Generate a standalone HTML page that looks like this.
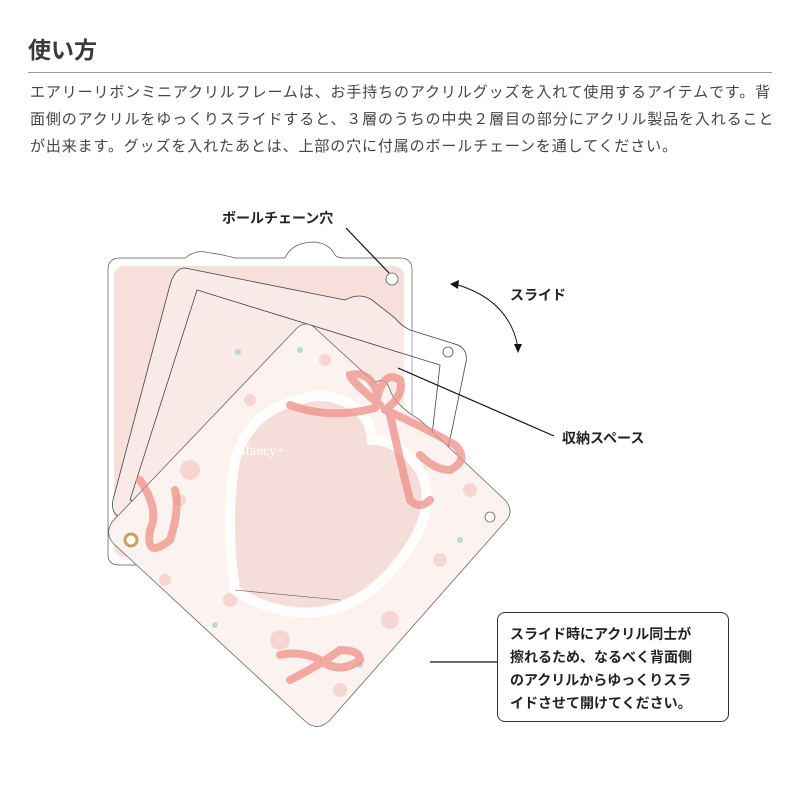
<!DOCTYPE html>
<html><head><meta charset="utf-8"><style>
*{margin:0;padding:0}
body{width:800px;height:800px;background:#fff;position:relative;overflow:hidden;font-family:"Liberation Sans","Noto Sans CJK JP",sans-serif;color:#333}
.t{position:absolute;left:28px;top:31px;font-size:23px;font-weight:bold;color:#3a3a3a}
.hr{position:absolute;left:28px;top:72px;width:744px;height:1px;background:#999}
.p{position:absolute;left:30px;top:79px;font-size:15px;line-height:27px;letter-spacing:0.88px;white-space:nowrap;color:#444}
.lab{position:absolute;font-size:14px;font-weight:bold;color:#222;white-space:nowrap}
.box{position:absolute;left:497px;top:612px;width:232px;height:110px;border:1.5px solid #333;border-radius:8px;box-sizing:border-box;font-size:14px;font-weight:bold;line-height:23px;padding:10px 0 0 12px;color:#222;white-space:nowrap}
svg{position:absolute;left:0;top:0}
</style></head><body>
<div class="t">使い方</div>
<div class="hr"></div>
<div class="p">エアリーリボンミニアクリルフレームは、お手持ちのアクリルグッズを入れて使用するアイテムです。背<br>面側のアクリルをゆっくりスライドすると、３層のうちの中央２層目の部分にアクリル製品を入れること<br>が出来ます。グッズを入れたあとは、上部の穴に付属のボールチェーンを通してください。</div>
<svg width="800" height="800" viewBox="0 0 800 800">
<path d="M120 258 H185 Q195 250 205 252 Q225 255 235 258 H285 Q292 242 315 242 Q330 244 335 255 Q337 258 345 258 H400 Q412 258 412 270 V555 Q412 565 400 565 H120 Q108 565 108 555 V270 Q108 258 120 258 Z" fill="#fff" stroke="#555" stroke-width="0.7"/>
<rect x="114" y="266" width="290" height="291" rx="10" fill="#f7dfdb"/>
<circle cx="392" cy="279" r="6" fill="#fff" stroke="#555" stroke-width="0.8"/>
<g fill="#fff" fill-opacity="0.35" stroke="#444" stroke-width="0.8">
<path d="M185 268 L345 300 Q360 292 372 300 L395 318 Q400 325 410 330 L458 345 Q468 350 466 362 L425 560 Q420 575 405 572 L125 520 Q110 515 113 500 L170 285 Q175 268 185 268 Z"/>
<path d="M197 290 L440 365 L420 540 L130 500 Z" fill="none"/>
</g>
<circle cx="448" cy="352" r="5" fill="#fff" stroke="#555" stroke-width="0.8"/>
<path d="M297 328 Q306 320 315 328 L375 383 Q385 375 390 390 Q395 405 420 420 L505 500 Q515 512 505 522 L330 720 Q318 732 306 722 L115 545 Q104 535 112 522 Z" fill="#fcf2f0" stroke="#666" stroke-width="0.8"/>
<g fill="#f6c9c6" opacity="0.7">
<circle cx="325" cy="360" r="6"/><circle cx="190" cy="470" r="10"/><circle cx="180" cy="500" r="6"/><circle cx="470" cy="490" r="7"/><circle cx="420" cy="470" r="6"/><circle cx="230" cy="600" r="7"/><circle cx="280" cy="640" r="10"/><circle cx="390" cy="620" r="9"/><circle cx="440" cy="560" r="7"/><circle cx="250" cy="400" r="6"/><circle cx="165" cy="580" r="6"/><circle cx="340" cy="690" r="7"/>
</g>
<g fill="#a9d6c6" opacity="0.8"><circle cx="238" cy="352" r="3"/><circle cx="300" cy="350" r="3"/><circle cx="460" cy="540" r="3"/><circle cx="215" cy="625" r="3"/><circle cx="360" cy="665" r="3"/></g>
<path d="M300 400 Q320 392 340 400 Q370 410 372 440 Q400 440 420 470 Q440 510 400 560 Q370 600 330 610 Q280 620 235 590 Q225 520 235 460 Q250 410 300 400 Z" fill="#f5ddd9" stroke="#fff" stroke-width="10" stroke-opacity="0.9"/>
<path d="M235 590 L340 600" stroke="#555" stroke-width="0.6"/>
<g fill="none" stroke="#ee9088" stroke-width="8" stroke-linecap="round" opacity="0.75">
<path d="M290 405 Q330 420 375 408"/>
<path d="M380 405 Q350 380 350 375 Q370 370 378 395 Q385 370 400 380 Q405 395 385 410"/>
<path d="M385 410 Q420 425 455 445 Q470 460 450 470 Q435 470 420 455"/>
<path d="M390 415 Q400 460 410 500 Q420 510 430 500"/>
<path d="M140 480 Q160 510 150 530 Q145 560 170 540 Q180 510 175 490"/>
<path d="M280 655 Q300 650 320 660 Q340 675 360 660 Q360 650 340 650 Q320 665 290 680"/>
</g>
<circle cx="131" cy="540" r="6" fill="#fff" stroke="#c9a060" stroke-width="3"/>
<circle cx="490" cy="517" r="5" fill="#fff" stroke="#666" stroke-width="0.8"/>
<text x="232" y="455" fill="#fff" font-size="14" font-family="Liberation Serif,serif">anfancy+</text>
<g stroke="#111" stroke-width="1.2" fill="none">
<line x1="346" y1="228" x2="389" y2="273"/>
<line x1="398" y1="368" x2="554" y2="436"/>
<line x1="430" y1="662" x2="497" y2="662"/>
<path d="M455 284 Q510 300 518 348" stroke-width="1"/>
</g>
<path d="M450 284 L459 280 L458 289 Z" fill="#111"/>
<path d="M518 353 L514 344 L522 344 Z" fill="#111"/>
</svg>
<div class="lab" style="left:222px;top:208px">ボールチェーン穴</div>
<div class="lab" style="left:510px;top:285px">スライド</div>
<div class="lab" style="left:562px;top:428px">収納スペース</div>
<div class="box">スライド時にアクリル同士が<br>擦れるため、なるべく背面側<br>のアクリルからゆっくりスラ<br>イドさせて開けてください。</div>
</body></html>
